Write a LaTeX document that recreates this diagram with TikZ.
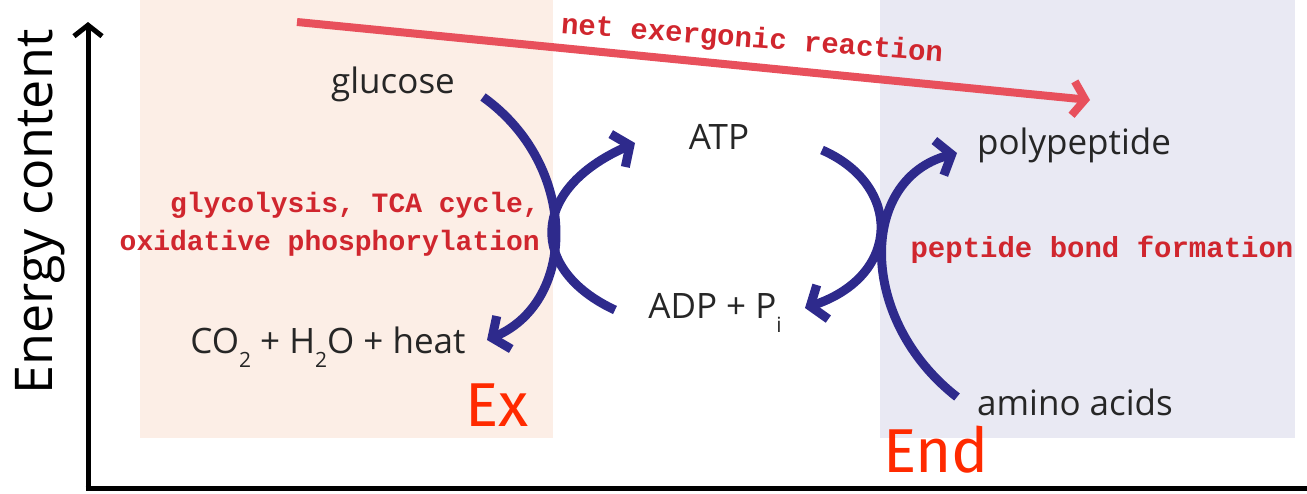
\documentclass[tikz,border=0pt]{standalone}
\usepackage{fontspec}
\setmainfont{Open Sans}
\newfontfamily\labelfont{Liberation Mono}
\newfontfamily\handfont{Fira Sans}
\usetikzlibrary{arrows.meta,calc}

\definecolor{peach}{HTML}{FCEEE6}
\definecolor{lavender}{HTML}{E9E9F3}
\definecolor{arcblue}{HTML}{2E2A8C}
\definecolor{labelred}{HTML}{D0262E}
\definecolor{netred}{HTML}{E8505C}
\definecolor{inkred}{HTML}{FF2A00}

\newcommand{\lowsub}[1]{\raisebox{-0.4em}{\fontsize{21}{21}\selectfont #1}}

\begin{document}
\begin{tikzpicture}[%
    x=1pt,
    y=-1pt,
    species/.style={%
      inner sep=0pt,
      text=black!85,
      font=\fontsize{35}{40}\selectfont
    },
    process/.style={%
      inner sep=0pt,
      text=labelred,
      align=right,
      font=\fontsize{28}{38}\selectfont\labelfont\bfseries
    },
    cyclearrow/.style={%
      draw=arcblue,
      line width=9pt,
      -{Straight Barb[length=13pt,width=36pt]}
    },
    hand/.style={%
      inner sep=0pt,
      text=inkred,
      font=\fontsize{62}{62}\selectfont\handfont
    }
  ]
    \useasboundingbox (0,0) rectangle (1307,493);

    % shaded regions
    \fill[peach] (140,0) rectangle (553,438);
    \fill[lavender] (880,0) rectangle (1295,438);

    % axes
    \coordinate (origin) at (88,488);
    \coordinate (ytop) at (88,22);
    \coordinate (xend) at (1310,488);
    \draw[line width=5pt, -{Straight Barb[length=11pt,width=28pt]}] (origin) -- (ytop);
    \draw[line width=5pt] ([xshift=-2.5pt]origin) -- (xend);
    \node[rotate=90, inner sep=0pt, font=\fontsize{52}{56}\selectfont] (ylabel) at (40,212) {Energy content};

    % species
    \node[species] (glucose) at (393,84) {glucose};
    \node[species] (atp) at (719,137) {ATP};
    \node[species] (poly) at (1074,145) {polypeptide};
    \node[species] (co2) at (328,347) {CO\lowsub{2} + H\lowsub{2}O + heat};
    \node[species] (adp) at (715,313) {ADP + P\lowsub{i}};
    \node[species] (amino) at (1075,402) {amino acids};

    % processes
    \node[process, anchor=east] (glyco) at (540,224) {glycolysis, TCA cycle,\\oxidative phosphorylation};
    \node[process, font=\fontsize{29}{38}\selectfont\labelfont\bfseries] (peptide) at (1102,250) {peptide bond formation};

    % net reaction
    \coordinate (netstart) at (297,22);
    \coordinate (netend) at (1090,100);
    \draw[netred, line width=8pt, -{Straight Barb[length=12pt,width=34pt]}] (netstart) -- (netend);
    \node[inner sep=0pt, rotate=-4.3, text=labelred, font=\fontsize{29}{34}\selectfont\labelfont\bfseries] (net) at (752,40) {net exergonic reaction};

    % coupled cycles
    \draw[cyclearrow] ($(glucose)+(90,13)$) .. controls (578,165) and (578,300) .. ($(co2)+(159,-7)$);
    \draw[cyclearrow] ($(adp)+(-100,-3)$) .. controls (529,270) and (529,190) .. ($(atp)+(-84,6)$);
    \draw[cyclearrow] ($(atp)+(103,13)$) .. controls (902,185) and (902,275) .. ($(adp)+(90,-5)$);
    \draw[cyclearrow] ($(amino)+(-118,-5)$) .. controls (858,320) and (858,180) .. ($(poly)+(-117,8)$);

    % annotations
    \node[hand] (ex) at (497,405) {Ex};
    \node[hand] (endmark) at (936,450) {End};
\end{tikzpicture}
\end{document}
